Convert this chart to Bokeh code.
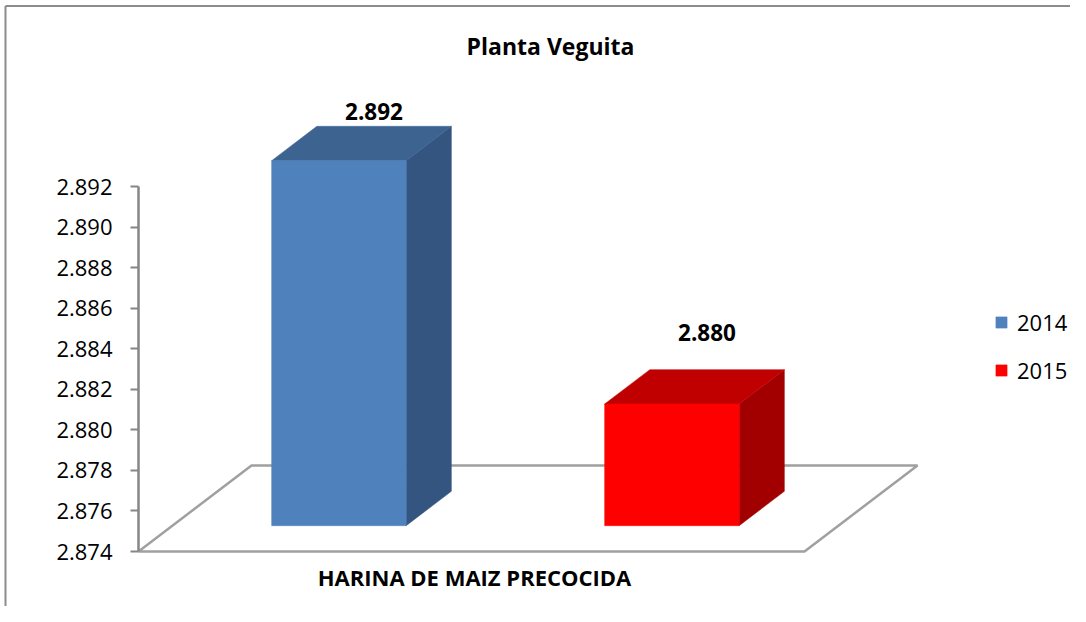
from bokeh.plotting import figure
from bokeh.models import (ColumnDataSource, LinearAxis, FixedTicker, PrintfTickFormatter,
                          Legend, LegendItem, Range1d)
from bokeh.embed import file_html
from bokeh.resources import INLINE
from bokeh.core.properties import value

# ---------------- data ----------------
title_text = "Planta Veguita"
category_label = "HARINA DE MAIZ PRECOCIDA"
series_names = ["2014", "2015"]
series_values = [2.892, 2.880]
value_labels = ["2.892", "2.880"]
tick_values = [2.874, 2.876, 2.878, 2.880, 2.882, 2.884, 2.886, 2.888, 2.890, 2.892]
front_colors = ["#4f81bd", "#ff0000"]
top_colors = ["#3d6391", "#c00000"]
side_colors = ["#34557f", "#a20000"]

# ---------------- layout (pixels within the figure) ----------------
W, H = 1070, 606
AXIS_MIN, AXIS_MAX = tick_values[0], tick_values[-1]
AX_TOP_PX, AX_BOT_PX = 186, 551          # axis top/bottom, px from figure top
S = (AX_BOT_PX - AX_TOP_PX) / (AXIS_MAX - AXIS_MIN)   # px per value unit
AX = 138                                  # x of value axis / floor front-left
FLOOR_W = 666
DX, DY = 113, 86                          # depth offsets (px)
D0, D1 = 0.3, 0.7                         # bar depth fractions
BW = 134.5                                # bar width (px)
SERIES_STEP = 333                         # distance between series bars


def y_of_px(py):
    return AXIS_MIN + (AX_BOT_PX - py) / S


def proj(xf, v, d):
    return AX + xf + d * DX, v + d * DY / S


p = figure(width=W, height=H, output_backend="svg", toolbar_location=None,
           x_range=Range1d(0, W), y_range=Range1d(y_of_px(H), y_of_px(0)),
           x_axis_location=None, y_axis_location=None, min_border=0)
p.grid.visible = False
p.outline_line_color = None
p.background_fill_color = "white"
p.border_fill_color = "white"

# outer chart border (top and left are inside the window)
p.segment(x0=[5, 5], y0=[y_of_px(5.5), y_of_px(5.5)], x1=[W, 5], y1=[y_of_px(5.5), y_of_px(H)],
          line_color="#8c8c8c", line_width=2)

# ---------------- floor ----------------
base = AXIS_MIN
fl = [proj(0, base, 0), proj(FLOOR_W, base, 0), proj(FLOOR_W, base, 1), proj(0, base, 1), proj(0, base, 0)]
p.line(x=[q[0] for q in fl], y=[q[1] for q in fl], line_color="#a0a0a0", line_width=2.5)

# ---------------- bars ----------------
n = len(series_values)
center = FLOOR_W / 2
fx, fy, tx, ty, sx, sy = [], [], [], [], [], []
lab_x, lab_y = [], []
clamp_top = y_of_px(110.5)
for i, v in enumerate(series_values):
    x0 = center + (i - (n - 1) / 2) * SERIES_STEP - BW / 2
    x1 = x0 + BW
    front = [proj(x0, base, D0), proj(x1, base, D0), proj(x1, v, D0), proj(x0, v, D0)]
    top = [proj(x0, v, D0), proj(x1, v, D0), proj(x1, v, D1), proj(x0, v, D1)]
    side = [proj(x1, base, D0), proj(x1, base, D1), proj(x1, v, D1), proj(x1, v, D0)]
    fx.append([q[0] for q in front]); fy.append([q[1] for q in front])
    tx.append([q[0] for q in top]); ty.append([q[1] for q in top])
    sx.append([q[0] for q in side]); sy.append([q[1] for q in side])
    cx = AX + (x0 + x1) / 2 + (D0 + D1) / 2 * DX + 12.5
    cy = min(v + D1 * DY / S + 37.5 / S, clamp_top)
    lab_x.append(cx); lab_y.append(cy)

p.patches(xs=sx, ys=sy, fill_color=side_colors, line_color=side_colors, line_width=0.5)
p.patches(xs=tx, ys=ty, fill_color=top_colors, line_color=top_colors, line_width=0.5)
front_src = ColumnDataSource(dict(xs=fx, ys=fy, color=front_colors))
front_r = p.patches(xs="xs", ys="ys", fill_color="color", line_color="color", line_width=0.5,
                    source=front_src)

# value labels
p.text(x=lab_x, y=lab_y, text=value_labels, text_font=value("Open Sans"), text_font_size="22.5px",
       text_font_style="bold", text_align="center", text_baseline="middle", text_color="black")

# title and category label
p.text(x=[550], y=[y_of_px(45)], text=[title_text], text_font=value("Open Sans"),
       text_font_size="23px", text_font_style="bold", text_align="center",
       text_baseline="middle", text_color="black")
p.text(x=[AX + FLOOR_W / 2 + 3], y=[y_of_px(576)], text=[category_label],
       text_font=value("Open Sans"), text_font_size="22px", text_font_style="bold",
       text_align="center", text_baseline="middle", text_color="black")

# ---------------- value axis ----------------
yaxis = LinearAxis(fixed_location=AX, bounds=(AXIS_MIN, AXIS_MAX),
                   ticker=FixedTicker(ticks=tick_values),
                   formatter=PrintfTickFormatter(format="%.3f"))
yaxis.axis_line_color = "#868686"
yaxis.axis_line_width = 2.5
yaxis.major_tick_out = 8
yaxis.major_tick_in = 0
yaxis.major_tick_line_color = "#868686"
yaxis.major_tick_line_width = 2
yaxis.minor_tick_out = 0
yaxis.minor_tick_in = 0
yaxis.major_label_text_font = "Open Sans"
yaxis.major_label_text_font_size = "22px"
yaxis.major_label_text_color = "black"
yaxis.major_label_standoff = 18
p.add_layout(yaxis, "left")

# ---------------- legend ----------------
legend = Legend(items=[LegendItem(label=series_names[i], renderers=[front_r], index=i) for i in range(n)],
                location=(994, 221), orientation="vertical")
legend.border_line_color = None
legend.background_fill_alpha = 0
legend.padding = 0
legend.margin = 0
legend.spacing = 18
legend.glyph_width = 14
legend.glyph_height = 14
legend.label_height = 20
legend.label_standoff = 9
legend.label_text_font = "Open Sans"
legend.label_text_font_size = "22px"
legend.label_text_color = "black"
p.add_layout(legend)

open("out.html", "w").write(file_html(p, INLINE))
